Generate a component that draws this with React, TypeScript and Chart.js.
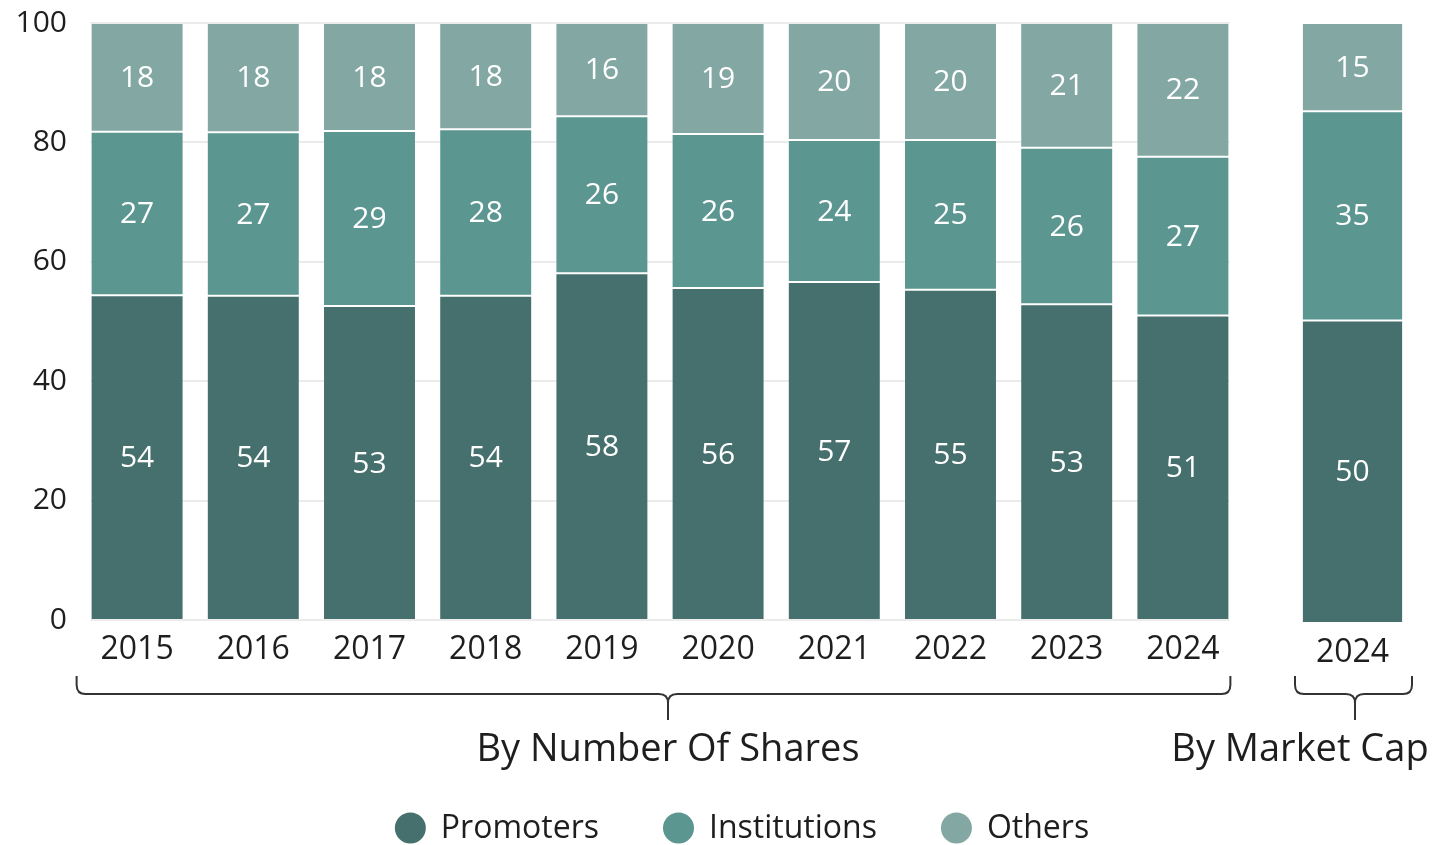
import React, { useEffect, useRef } from "react";
import { Chart, registerables } from "chart.js";

Chart.register(...registerables);

// ---- data ----
const years = ["2015", "2016", "2017", "2018", "2019", "2020", "2021", "2022", "2023", "2024"];
const promoters = [54.4, 54.3, 52.6, 54.3, 58.1, 55.6, 56.6, 55.3, 52.9, 51.0];
const institutions = [27.4, 27.4, 29.3, 27.9, 26.3, 25.8, 23.8, 25.1, 26.2, 26.6];
const others = [18.2, 18.3, 18.1, 17.8, 15.6, 18.6, 19.6, 19.6, 20.9, 22.4];

const capYears = ["2024"];
const capPromoters = [50.4];
const capInstitutions = [34.9];
const capOthers = [14.7];

const seriesNames = ["Promoters", "Institutions", "Others"];
const seriesColors = ["#46706d", "#5b9690", "#83a8a3"];
const yTicks = [0, 20, 40, 60, 80, 100];
const groupLabels = ["By Number Of Shares", "By Market Cap"];

const FONT = '"Open Sans", "Noto Sans", sans-serif';
const TEXT = "#1e1e1e";

const valueLabels = {
  id: "valueLabels",
  afterDatasetsDraw(chart: any) {
    const ctx = chart.ctx;
    ctx.save();
    ctx.font = `30px ${FONT}`;
    ctx.fillStyle = "#ffffff";
    ctx.textAlign = "center";
    ctx.textBaseline = "middle";
    chart.data.datasets.forEach((ds: any, i: number) => {
      const meta = chart.getDatasetMeta(i);
      meta.data.forEach((el: any, j: number) => {
        const v = ds.data[j] as number;
        ctx.fillText(String(Math.round(v)), el.x, (el.y + el.base) / 2 + 1);
      });
    });
    ctx.restore();
  },
};

const gridLines = {
  id: "gridLines",
  beforeDatasetsDraw(chart: any) {
    const ctx = chart.ctx;
    const meta = chart.getDatasetMeta(0);
    const first = meta.data[0];
    const last = meta.data[meta.data.length - 1];
    const left = first.x - first.width / 2;
    const right = last.x + last.width / 2;
    const ys = chart.scales.y;
    ctx.save();
    ctx.strokeStyle = "#ebebeb";
    ctx.lineWidth = 2;
    ys.ticks.forEach((t: any) => {
      const py = Math.round(ys.getPixelForValue(t.value));
      ctx.beginPath();
      ctx.moveTo(left, py);
      ctx.lineTo(right, py);
      ctx.stroke();
    });
    ctx.restore();
  },
};

function drawBrace(ctx: CanvasRenderingContext2D, x1: number, x2: number, tip: number, top: number, mid: number, bottom: number) {
  const r = 9;
  ctx.beginPath();
  ctx.moveTo(x1, top);
  ctx.lineTo(x1, mid - r);
  ctx.quadraticCurveTo(x1, mid, x1 + r, mid);
  ctx.lineTo(tip - r, mid);
  ctx.quadraticCurveTo(tip, mid, tip, mid + r);
  ctx.lineTo(tip, bottom);
  ctx.moveTo(x2, top);
  ctx.lineTo(x2, mid - r);
  ctx.quadraticCurveTo(x2, mid, x2 - r, mid);
  ctx.lineTo(tip + r, mid);
  ctx.quadraticCurveTo(tip, mid, tip, mid + r);
  ctx.stroke();
}

const decorations = {
  id: "decorations",
  afterDraw(chart: any) {
    const ctx: CanvasRenderingContext2D = chart.ctx;
    const meta = chart.getDatasetMeta(0);
    const first = meta.data[0];
    const last = meta.data[meta.data.length - 1];
    const left = first.x - first.width / 2 - 14;
    const right = last.x + last.width / 2 + 1;
    ctx.save();
    ctx.strokeStyle = "#333333";
    ctx.lineWidth = 2;
    drawBrace(ctx, left, right, 668, 676, 694, 720);
    drawBrace(ctx, 1295, 1412, 1355, 676, 694, 720);

    ctx.fillStyle = TEXT;
    ctx.font = `38px ${FONT}`;
    ctx.textAlign = "center";
    ctx.textBaseline = "middle";
    ctx.fillText(groupLabels[0], 668, 750);
    ctx.fillText(groupLabels[1], 1300, 750);

    // legend
    ctx.font = `32px ${FONT}`;
    const d = 31, g1 = 15, g2 = 64;
    const widths = seriesNames.map((n) => ctx.measureText(n).width);
    const total = widths.reduce((a, w) => a + d + g1 + w, 0) + g2 * (seriesNames.length - 1);
    let x = 742 - total / 2;
    const cy = 828;
    ctx.textAlign = "left";
    seriesNames.forEach((n, i) => {
      ctx.fillStyle = seriesColors[i];
      ctx.beginPath();
      ctx.arc(x + d / 2, cy, d / 2, 0, Math.PI * 2);
      ctx.fill();
      ctx.fillStyle = TEXT;
      ctx.fillText(n, x + d + g1, cy + 1);
      x += d + g1 + widths[i] + g2;
    });
    ctx.restore();
  },
};

function makeDatasets(p: number[], ins: number[], o: number[], barPct: number) {
  return [p, ins, o].map((data, i) => ({
    label: seriesNames[i],
    data,
    backgroundColor: seriesColors[i],
    borderColor: "rgba(255,255,255,0.12)",
    borderWidth: 1,
    borderSkipped: false,
    barPercentage: barPct,
    categoryPercentage: 1,
  }));
}

export default function App() {
  const mainRef = useRef<HTMLCanvasElement>(null);
  const capRef = useRef<HTMLCanvasElement>(null);

  useEffect(() => {
    const main = new Chart(mainRef.current!, {
      type: "bar",
      data: { labels: years, datasets: makeDatasets(promoters, institutions, others, 0.8) as any },
      options: {
        responsive: false,
        animation: false,
        layout: { padding: { left: 17, right: 212, top: 23, bottom: 175 } },
        plugins: { legend: { display: false }, tooltip: { enabled: false } },
        scales: {
          x: {
            stacked: true,
            grid: { display: false, drawTicks: false },
            border: { display: false },
            ticks: { color: TEXT, font: { family: FONT, size: 32 }, padding: 11, maxRotation: 0 },
            afterFit: (s: any) => { s.height = 50; },
          },
          y: {
            stacked: true,
            min: 0,
            max: 100,
            grid: { display: false, drawTicks: false },
            border: { display: false },
            afterBuildTicks: (s: any) => { s.ticks = yTicks.map((v) => ({ value: v })); },
            ticks: { color: TEXT, font: { family: FONT, size: 30, lineHeight: 0.6 }, padding: 12 },
            afterFit: (s: any) => { s.width = 62; s.paddingTop = 0; s.paddingBottom = 0; },
          },
        },
      },
      plugins: [gridLines, valueLabels, decorations],
    });

    const cap = new Chart(capRef.current!, {
      type: "bar",
      data: { labels: capYears, datasets: makeDatasets(capPromoters, capInstitutions, capOthers, 0.81) as any },
      options: {
        responsive: false,
        animation: false,
        layout: { padding: { left: 130, right: 38, top: 23, bottom: 172 } },
        plugins: { legend: { display: false }, tooltip: { enabled: false } },
        scales: {
          x: {
            stacked: true,
            grid: { display: false, drawTicks: false },
            border: { display: false },
            ticks: { color: TEXT, font: { family: FONT, size: 32 }, padding: 11, maxRotation: 0 },
            afterFit: (s: any) => { s.height = 50; },
          },
          y: { stacked: true, display: false, min: 0, max: 100 },
        },
      },
      plugins: [valueLabels],
    });

    if ((document as any).fonts) {
      (document as any).fonts.load(`30px "Open Sans"`).then(() => {
        main.update();
        cap.update();
      }).catch(() => {});
    }

    return () => {
      main.destroy();
      cap.destroy();
    };
  }, []);

  return (
    <div style={{ position: "fixed", left: 0, top: 0, width: 1453, height: 845, background: "#fff", overflow: "hidden" }}>
      <canvas ref={mainRef} width={1453} height={845} style={{ position: "absolute", left: 0, top: 0, width: 1453, height: 845 }} />
      <canvas ref={capRef} width={293} height={845} style={{ position: "absolute", left: 1160, top: 0, width: 293, height: 845 }} />
    </div>
  );
}
